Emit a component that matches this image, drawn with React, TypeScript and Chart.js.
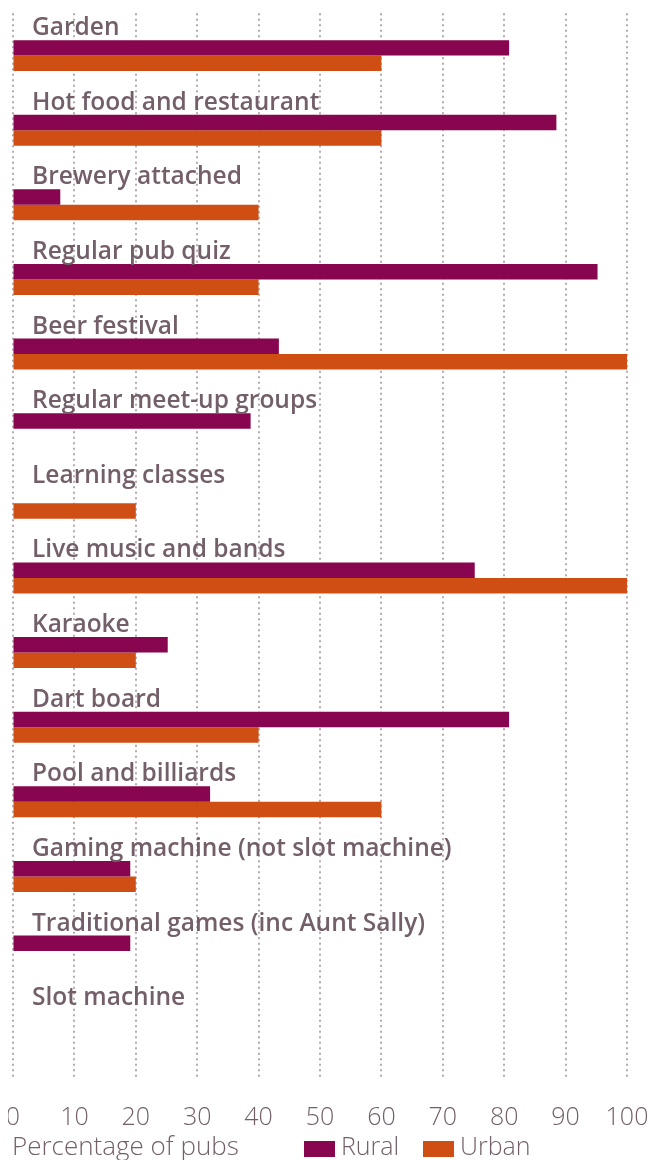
import React, { useEffect, useRef } from "react";
import { Chart, registerables } from "chart.js";

Chart.register(...registerables);

const categories = [
  "Garden",
  "Hot food and restaurant",
  "Brewery attached",
  "Regular pub quiz",
  "Beer festival",
  "Regular meet-up groups",
  "Learning classes",
  "Live music and bands",
  "Karaoke",
  "Dart board",
  "Pool and billiards",
  "Gaming machine (not slot machine)",
  "Traditional games (inc Aunt Sally)",
  "Slot machine",
];

const rural = [80.8, 88.5, 7.7, 95.2, 43.3, 38.7, 0, 75.2, 25.2, 80.8, 32.1, 19.1, 19.1, 0];
const urban = [60, 60, 40, 40, 100, 0, 20, 100, 20, 40, 60, 20, 0, 0];

const seriesNames = ["Rural", "Urban"];
const seriesColors = ["#88054f", "#cf4e13"];
const xTicks = { min: 0, max: 100, step: 10 };
const axisTitle = "Percentage of pubs";

const TEXT = "#735f69";
const GRID = "#b5a9af";

const overlayPlugin = {
  id: "overlay",
  beforeDatasetsDraw(chart: any) {
    const { ctx, chartArea, scales } = chart;
    const xs = scales.x;
    ctx.save();
    ctx.strokeStyle = GRID;
    ctx.lineWidth = 2;
    ctx.setLineDash([2, 3.5]);
    xs.ticks.forEach((t: any) => {
      const x = Math.round(xs.getPixelForValue(t.value));
      ctx.beginPath();
      ctx.moveTo(x, chartArea.top - 5);
      ctx.lineTo(x, chartArea.bottom + 16);
      ctx.stroke();
    });
    ctx.restore();
  },
  afterDatasetsDraw(chart: any) {
    const { ctx, chartArea, scales } = chart;
    const ys = scales.y;
    ctx.save();
    ctx.fillStyle = TEXT;
    ctx.font = "600 24.5px 'Open Sans'";
    ctx.textBaseline = "alphabetic";
    ctx.textAlign = "left";
    categories.forEach((c, i) => {
      const y = ys.getPixelForValue(i);
      ctx.fillText(c, chartArea.left + 19, y - 20.5);
    });
    // axis title + legend
    const baseY = 1155;
    ctx.font = "300 26px 'Open Sans'";
    ctx.fillText(axisTitle, 12, baseY);
    ctx.font = "300 25px 'Open Sans'";
    const legendX = [304, 423];
    chart.data.datasets.forEach((ds: any, i: number) => {
      ctx.fillStyle = ds.backgroundColor;
      ctx.fillRect(legendX[i], 1141, 31, 16);
      ctx.fillStyle = TEXT;
      ctx.fillText(ds.label, legendX[i] + 37, baseY);
    });
    ctx.restore();
  },
};

export default function App() {
  const ref = useRef<HTMLCanvasElement | null>(null);
  useEffect(() => {
    if (!ref.current) return;
    const chart = new Chart(ref.current, {
      type: "bar",
      data: {
        labels: categories,
        datasets: [
          { label: seriesNames[0], data: rural, backgroundColor: seriesColors[0] },
          { label: seriesNames[1], data: urban, backgroundColor: seriesColors[1] },
        ],
      },
      options: {
        indexAxis: "y",
        animation: false,
        responsive: false,
        maintainAspectRatio: false,
        events: [],
        layout: { padding: { left: 13, right: 28, top: 18.3, bottom: 23 } },
        datasets: { bar: { categoryPercentage: 0.415, barPercentage: 1.0 } },
        plugins: { legend: { display: false }, tooltip: { enabled: false } },
        scales: {
          x: {
            type: "linear",
            min: xTicks.min,
            max: xTicks.max,
            border: { display: false },
            grid: { display: true, color: "rgba(0,0,0,0)", drawOnChartArea: false, drawTicks: true, tickLength: 36 },
            ticks: {
              stepSize: xTicks.step,
              padding: 4,
              color: TEXT,
              font: { family: "'Open Sans'", size: 25, weight: "300" },
            },
          },
          y: {
            type: "category",
            display: false,
            offset: true,
          },
        },
      },
      plugins: [overlayPlugin],
    });
    return () => chart.destroy();
  }, []);
  return (
    <div style={{ margin: "-8px 0 0 -8px", width: 655, height: 1160 }}>
      <canvas ref={ref} width={655} height={1160} style={{ display: "block", width: 655, height: 1160 }} />
    </div>
  );
}
